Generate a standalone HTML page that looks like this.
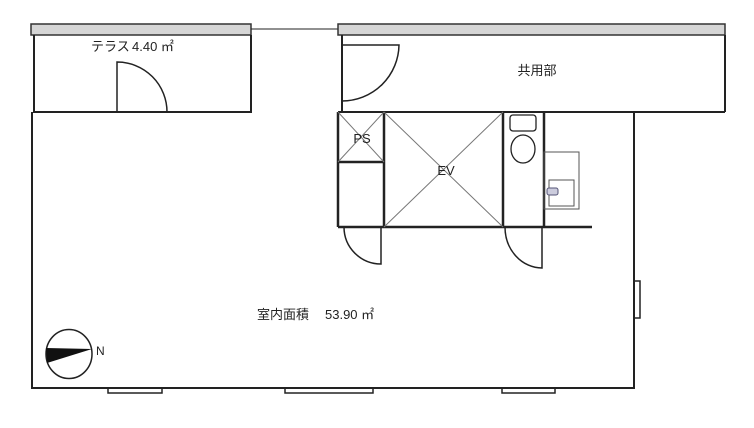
<!DOCTYPE html>
<html><head><meta charset="utf-8"><style>
html,body{margin:0;padding:0;background:#fff;width:754px;height:428px;overflow:hidden}
svg text{font-family:"Liberation Sans","Noto Sans CJK JP",sans-serif;fill:#222}
</style></head><body>
<svg width="754" height="428" viewBox="0 0 754 428" xmlns="http://www.w3.org/2000/svg">
<g fill="none" stroke="#222" stroke-width="2">
<rect x="31" y="24" width="220" height="11" fill="#d6d6d6" stroke="#333" stroke-width="1.5"/>
<path d="M34 35 V112 H251 V35"/>
<line x1="251" y1="29" x2="338" y2="29" stroke-width="1"/>
<path d="M117 112 V62 A50 50 0 0 1 167 112" stroke-width="1.5"/>
<rect x="338" y="24" width="387" height="11" fill="#d6d6d6" stroke="#333" stroke-width="1.5"/>
<path d="M342 35 V112 M725 35 V112 M338 112 H725"/>
<path d="M342 101 V45 H399 A57 57 0 0 1 342 101" stroke-width="1.5"/>
<path d="M32 112 V388 H634 V112"/>
<rect x="634" y="281" width="6" height="37" stroke-width="1.5"/>
<rect x="108" y="388" width="54" height="5" stroke-width="1.5"/>
<rect x="285" y="388" width="88" height="5" stroke-width="1.5"/>
<rect x="502" y="388" width="53" height="5" stroke-width="1.5"/>
<path d="M338 112 V227 M384 112 V227 M338 162 H384 M503 112 V227 M544 112 V227 M338 227 H592" stroke-width="2.5"/>
<g stroke="#777" stroke-width="1">
<line x1="338" y1="112" x2="384" y2="162"/><line x1="384" y1="112" x2="338" y2="162"/>
<line x1="384" y1="112" x2="503" y2="227"/><line x1="503" y1="112" x2="384" y2="227"/>
</g>
<rect x="510" y="115" width="26" height="16" rx="3" stroke-width="1.3"/>
<ellipse cx="523" cy="149" rx="12" ry="14" stroke-width="1.3"/>
<rect x="544" y="152" width="35" height="57" stroke="#555" stroke-width="1"/>
<rect x="549" y="180" width="25" height="26" stroke="#555" stroke-width="1"/>
<rect x="547" y="188" width="11" height="7" rx="2" fill="#ccd" stroke="#557" stroke-width="1"/>
<path d="M381 227 V264 A37 37 0 0 1 344 227" stroke-width="1.5"/>
<path d="M542 227 V268 A37 41 0 0 1 505 227" stroke-width="1.5"/>
<ellipse cx="69" cy="354" rx="23" ry="24.5" stroke-width="1.5"/>
<polygon points="46,348 47,363 92,349" fill="#111" stroke="none"/>
</g>
<text x="91" y="51" font-size="13">テラス</text>
<text x="132" y="51" font-size="13">4.40 ㎡</text>
<text x="537" y="75" font-size="13" text-anchor="middle">共用部</text>
<text x="362" y="143" font-size="13" text-anchor="middle">PS</text>
<text x="446" y="175" font-size="13" text-anchor="middle">EV</text>
<text x="257" y="319" font-size="13">室内面積</text>
<text x="325" y="319" font-size="13">53.90 ㎡</text>
<text x="96" y="355" font-size="12">N</text>
</svg>
</body></html>
